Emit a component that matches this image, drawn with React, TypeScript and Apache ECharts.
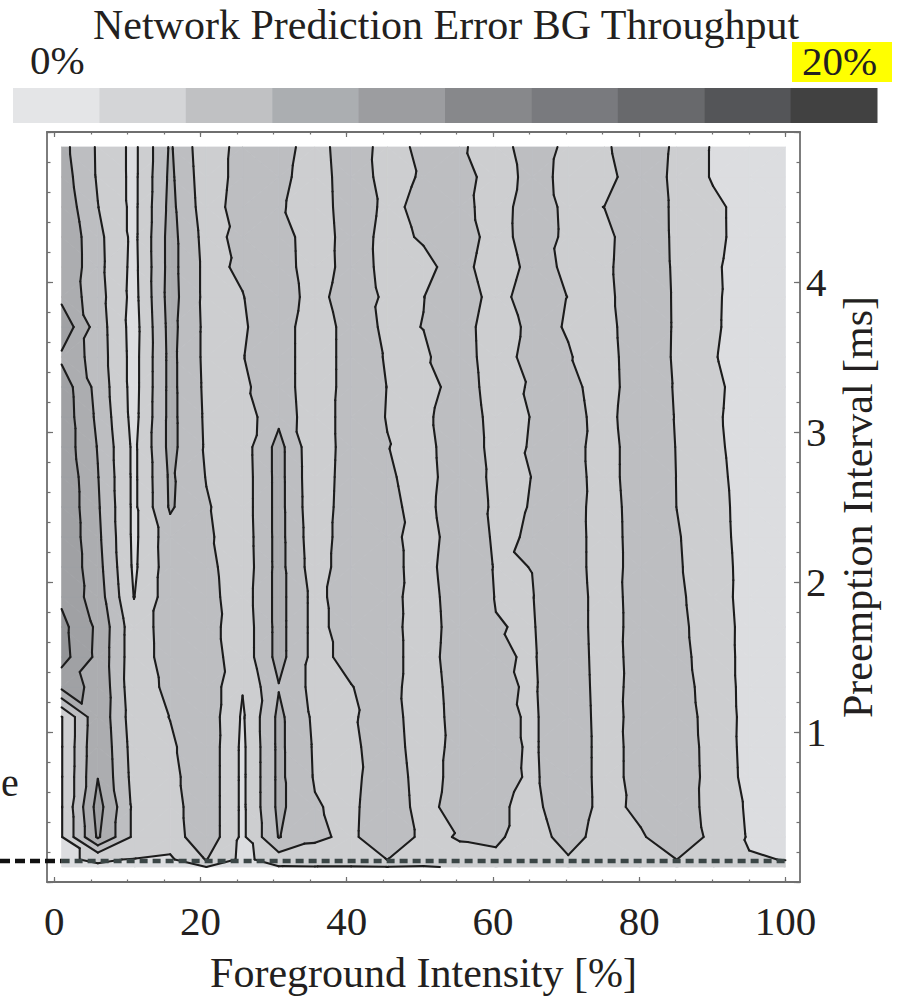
import React, { useEffect, useRef } from 'react';
import * as echarts from 'echarts';

// Foreground intensity grid [%] and preemption interval grid [ms]
const xs = [1, 5.95, 10.9, 15.85, 20.8, 25.75, 30.7, 35.65, 40.6, 45.55, 50.5, 55.45, 60.4, 65.35, 70.3, 75.25, 80.2, 85.15, 90.1, 95.05, 100];
const ys = [0.1, 0.15, 0.3, 0.5, 0.7, 0.9, 1.1, 1.3, 1.5, 1.7, 1.9, 2.1, 2.3, 2.5, 2.7, 2.9, 3.1, 3.3, 3.5, 3.7, 3.9, 4.1, 4.3, 4.5, 4.7, 4.9];

// Prediction error of BG throughput [%], one row per preemption interval (bottom -> top)
const errorRows = [
  [1.9, 1.9, 1.6, 1.0, 1.98, 1.5, 1.9, 1.95, 1.95, 1.98, 1.9, 2.12, 2.3, 2.4, 2.5, 2.5, 2.5, 2.5, 2.5, 2.4, 2.3],
  [1.9, 2.1, 1.95, 1.7, 4.1, 1.5, 3.0, 2.8, 2.6, 4.03, 2.8, 3.3, 3.4, 3.0, 3.7, 3.0, 3.2, 4.02, 3.0, 2.1, 1.97],
  [1.9, 8.3, 3.58, 3.0, 5.42, 1.6, 6.1, 4.42, 3.5, 5.9, 3.38, 4.17, 4.5, 2.5, 5.25, 2.63, 3.67, 5.83, 3.36, 1.85, 1.7],
  [1.9, 8.8, 3.58, 3.17, 5.42, 1.6, 6.46, 4.17, 3.42, 5.9, 2.88, 5.5, 4.5, 3.17, 5.9, 3.04, 4.67, 5.33, 3.2, 1.75, 1.5],
  [1.9, 7.95, 3.33, 3.42, 5.42, 1.6, 6.46, 3.83, 3.25, 5.75, 2.71, 5.08, 5.33, 3.5, 5.9, 2.96, 4.92, 5.5, 3.16, 1.48, 1.0],
  [1.9, 7.8, 3.17, 3.67, 5.42, 1.6, 6.46, 3.75, 3.42, 5.5, 2.46, 5.08, 5.17, 3.58, 5.9, 2.96, 4.92, 5.42, 3.12, 1.42, 1.0],
  [1.9, 7.6, 2.92, 4.05, 5.33, 1.75, 6.46, 3.58, 3.67, 5.33, 2.3, 5.25, 4.92, 3.58, 5.9, 2.88, 5.0, 5.25, 3.07, 1.45, 1.0],
  [8.5, 7.7, 2.67, 4.58, 5.33, 2.1, 5.9, 3.33, 3.92, 5.08, 2.4, 5.42, 4.58, 3.67, 5.83, 2.79, 5.08, 5.0, 2.98, 1.43, 1.0],
  [10.8, 7.5, 2.75, 5.0, 5.08, 2.75, 6.7, 3.33, 4.67, 5.08, 2.63, 5.67, 4.33, 3.75, 5.75, 2.71, 5.17, 4.75, 2.9, 1.43, 1.0],
  [10.6, 7.6, 2.75, 5.08, 4.83, 2.75, 6.7, 3.33, 5.08, 5.08, 2.5, 5.5, 4.08, 3.83, 5.67, 2.63, 5.25, 4.58, 2.86, 1.44, 1.0],
  [9.6, 7.0, 1.95, 5.08, 4.67, 2.92, 6.7, 3.33, 5.33, 5.0, 2.63, 5.67, 3.92, 3.92, 5.67, 2.63, 5.33, 4.42, 2.78, 1.36, 1.0],
  [9.7, 6.7, 1.67, 5.08, 4.58, 2.75, 6.7, 2.92, 5.33, 4.92, 2.88, 5.9, 3.83, 4.02, 5.5, 2.5, 5.42, 4.25, 2.75, 1.39, 1.0],
  [9.7, 6.45, 1.58, 5.17, 4.33, 2.83, 6.7, 2.75, 5.33, 4.92, 2.63, 5.67, 3.67, 4.17, 5.5, 2.5, 5.5, 4.17, 2.69, 1.31, 1.0],
  [9.7, 6.25, 1.58, 6.25, 4.17, 2.92, 6.7, 2.58, 5.33, 4.67, 3.04, 5.9, 3.5, 4.08, 5.42, 2.54, 5.58, 3.98, 2.64, 1.28, 1.0],
  [9.7, 6.08, 1.58, 6.33, 3.92, 2.92, 6.7, 2.5, 5.25, 4.42, 2.79, 5.83, 3.33, 4.02, 5.33, 2.71, 5.75, 3.96, 2.58, 1.17, 1.0],
  [9.3, 5.9, 1.58, 6.58, 3.75, 3.0, 6.7, 2.42, 5.17, 4.08, 2.96, 5.9, 3.08, 4.17, 5.17, 2.71, 5.75, 3.92, 2.48, 1.03, 1.0],
  [9.3, 5.58, 1.33, 6.58, 3.67, 2.92, 5.54, 2.5, 5.17, 3.92, 3.29, 5.9, 2.92, 4.08, 5.08, 2.96, 5.9, 3.84, 2.37, 1.0, 1.0],
  [9.2, 5.31, 1.25, 6.58, 3.58, 3.58, 5.38, 2.33, 5.17, 3.97, 2.54, 5.58, 2.67, 4.33, 4.83, 2.71, 5.75, 3.75, 2.44, 1.11, 1.0],
  [7.6, 5.08, 1.25, 6.58, 3.5, 3.92, 5.38, 2.33, 5.17, 3.83, 3.63, 5.42, 2.42, 5.17, 4.17, 2.79, 5.83, 3.63, 2.16, 0.9, 1.0],
  [9.5, 5.0, 1.17, 6.67, 3.5, 3.75, 5.38, 2.33, 5.17, 3.58, 4.04, 5.33, 2.33, 4.75, 3.83, 2.96, 5.9, 3.66, 2.3, 1.0, 1.0],
  [7.5, 4.79, 1.33, 6.83, 3.42, 3.92, 5.63, 2.83, 5.83, 3.42, 3.96, 5.83, 2.83, 5.58, 3.95, 3.21, 5.9, 3.64, 2.33, 1.0, 1.0],
  [7.8, 4.6, 1.42, 6.75, 3.42, 4.33, 5.46, 2.42, 5.25, 3.25, 3.29, 5.17, 2.17, 4.92, 3.58, 3.38, 5.9, 3.57, 2.29, 1.1, 1.0],
  [7.8, 4.53, 1.5, 6.75, 3.25, 4.58, 5.38, 2.33, 5.33, 3.17, 4.29, 5.67, 2.67, 5.5, 3.42, 3.29, 5.75, 3.53, 2.41, 1.3, 1.0],
  [7.42, 4.05, 1.5, 6.58, 2.92, 5.0, 4.38, 2.5, 5.5, 3.42, 4.63, 5.0, 2.58, 5.58, 3.33, 4.03, 5.67, 3.51, 2.4, 1.3, 1.0],
  [7.0, 3.8, 1.5, 6.42, 2.75, 4.83, 4.79, 2.58, 5.58, 3.0, 4.29, 5.42, 2.42, 5.0, 3.25, 3.04, 5.67, 3.36, 1.83, 1.2, 1.0],
  [6.67, 3.76, 1.5, 6.25, 2.58, 4.83, 5.13, 2.75, 5.75, 2.83, 4.71, 4.42, 2.58, 5.58, 3.33, 3.54, 5.9, 3.48, 1.83, 1.2, 1.0],
];

const contourLevels = [2, 4, 6, 8, 10];
const bandColors = ['#dcdde0', '#cdced0', '#bdbec1', '#acadb0', '#a0a1a4', '#939497'];
const colorbarColors = ['#e4e5e7', '#d4d5d7', '#c0c1c3', '#abaeb1', '#9c9da0', '#87888b', '#797a7e', '#68696c', '#545558', '#414141'];

const xMajorTicks = [0, 20, 40, 60, 80, 100];
const xMinorTicks = [0, 5, 10, 15, 20, 25, 30, 35, 40, 45, 50, 55, 60, 65, 70, 75, 80, 85, 90, 95, 100];
const yMajorTicks = [0, 1, 2, 3, 4, 5];
const yTickLabels = [1, 2, 3, 4];
const yMinorTicks = [0, 0.2, 0.4, 0.6, 0.8, 1, 1.2, 1.4, 1.6, 1.8, 2, 2.2, 2.4, 2.6, 2.8, 3, 3.2, 3.4, 3.6, 3.8, 4, 4.2, 4.4, 4.6, 4.8, 5];
const baselineInterval = 0.14;

const FONT = 'Liberation Serif';
const TEXT = '#231f20';
const FRAME = '#6f6f6f';

function nz(z: number) {
  for (const T of contourLevels) if (z === T) return z + 1e-6;
  return z;
}

function cornersOf(api: any, i: number, j: number) {
  const idx = [[i, j], [i + 1, j], [i + 1, j + 1], [i, j + 1]];
  return idx.map(([a, b]) => {
    const p = api.coord([xs[a], ys[b]]);
    return [p[0], p[1], nz(errorRows[b][a])];
  });
}

function trianglesOf(c: number[][]) {
  const [p00, p10, p11, p01] = c;
  if (Math.abs(p00[2] - p11[2]) <= Math.abs(p10[2] - p01[2])) return [[p00, p10, p11], [p00, p11, p01]];
  return [[p00, p10, p01], [p10, p11, p01]];
}

function clipPoly(pts: number[][], T: number, keepAbove: boolean) {
  const out: number[][] = [];
  for (let k = 0; k < pts.length; k++) {
    const a = pts[k];
    const b = pts[(k + 1) % pts.length];
    const ina = keepAbove ? a[2] >= T : a[2] <= T;
    const inb = keepAbove ? b[2] >= T : b[2] <= T;
    if (ina) out.push(a);
    if (ina !== inb) {
      const t = (T - a[2]) / (b[2] - a[2]);
      out.push([a[0] + t * (b[0] - a[0]), a[1] + t * (b[1] - a[1]), T]);
    }
  }
  return out;
}

function renderFill(params: any, api: any) {
  const i = api.value(2);
  const j = api.value(3);
  const children: any[] = [];
  for (const tri of trianglesOf(cornersOf(api, i, j))) {
    const zs = tri.map((p) => p[2]);
    const zmin = Math.min(...zs);
    const zmax = Math.max(...zs);
    for (let k = 0; k < bandColors.length; k++) {
      const lo = k === 0 ? -Infinity : contourLevels[k - 1];
      const hi = k < contourLevels.length ? contourLevels[k] : Infinity;
      if (zmax < lo || zmin > hi) continue;
      let poly = tri;
      if (lo > -Infinity) poly = clipPoly(poly, lo, true);
      if (poly.length >= 3 && hi < Infinity) poly = clipPoly(poly, hi, false);
      if (poly.length < 3) continue;
      children.push({
        type: 'polygon',
        shape: { points: poly.map((p) => [p[0], p[1]]) },
        style: { fill: bandColors[k], stroke: bandColors[k], lineWidth: 0.8 },
      });
    }
  }
  return { type: 'group', children };
}

function renderLines(params: any, api: any) {
  const i = api.value(2);
  const j = api.value(3);
  const children: any[] = [];
  for (const tri of trianglesOf(cornersOf(api, i, j))) {
    for (const T of contourLevels) {
      const pts: number[][] = [];
      for (let k = 0; k < 3; k++) {
        const a = tri[k];
        const b = tri[(k + 1) % 3];
        if ((a[2] - T) * (b[2] - T) < 0) {
          const t = (T - a[2]) / (b[2] - a[2]);
          pts.push([a[0] + t * (b[0] - a[0]), a[1] + t * (b[1] - a[1])]);
        }
      }
      if (pts.length === 2) {
        children.push({
          type: 'line',
          shape: { x1: pts[0][0], y1: pts[0][1], x2: pts[1][0], y2: pts[1][1] },
          style: { stroke: '#1c1c1c', lineWidth: 2.1, lineCap: 'round' },
        });
      }
    }
  }
  return { type: 'group', children };
}

const cells: number[][] = [];
for (let j = 0; j < ys.length - 1; j++) {
  for (let i = 0; i < xs.length - 1; i++) {
    cells.push([(xs[i] + xs[i + 1]) / 2, (ys[j] + ys[j + 1]) / 2, i, j]);
  }
}

function xAxisDef(position: 'top' | 'bottom', ticks: number[], len: number, withLine: boolean, withLabels: boolean) {
  return {
    type: 'value',
    position,
    min: -1,
    max: 102,
    axisLine: { show: withLine, onZero: false, lineStyle: { color: FRAME, width: 1.8 } },
    axisTick: { show: true, inside: true, length: len, customValues: ticks, lineStyle: { color: FRAME, width: 1.2 } },
    axisLabel: withLabels
      ? { show: true, customValues: xMajorTicks, margin: 18, fontSize: 41, fontFamily: FONT, color: TEXT }
      : { show: false },
    splitLine: { show: false },
    ...(withLabels
      ? {
          name: 'Foreground Intensity [%]',
          nameLocation: 'middle',
          nameGap: 70,
          nameTextStyle: { fontSize: 42, fontFamily: FONT, color: TEXT },
        }
      : {}),
  };
}

function yAxisDef(position: 'left' | 'right', ticks: number[], len: number, withLine: boolean, withLabels: boolean) {
  return {
    type: 'value',
    position,
    min: 0,
    max: 5,
    axisLine: { show: withLine, onZero: false, lineStyle: { color: FRAME, width: 1.8 } },
    axisTick: { show: true, inside: true, length: len, customValues: ticks, lineStyle: { color: FRAME, width: 1.2 } },
    axisLabel: withLabels
      ? { show: true, customValues: yTickLabels, margin: 6, fontSize: 41, fontFamily: FONT, color: TEXT }
      : { show: false },
    splitLine: { show: false },
    ...(withLabels
      ? {
          name: 'Preemption Interval [ms]',
          nameLocation: 'middle',
          nameRotate: 90,
          nameGap: 33,
          nameTextStyle: { fontSize: 42, fontFamily: FONT, color: TEXT },
        }
      : {}),
  };
}

export default function App() {
  const ref = useRef<HTMLDivElement>(null);

  useEffect(() => {
    if (!ref.current) return;
    const chart = echarts.init(ref.current, null, { renderer: 'svg' });

    const colorbar = colorbarColors.map((c, k) => ({
      type: 'rect',
      shape: { x: 13 + k * 86.4, y: 88, width: 86.9, height: 35 },
      style: { fill: c },
      silent: true,
    }));

    const baseGraphic = [
      {
        type: 'text',
        x: 446,
        y: 25,
        silent: true,
        style: {
          text: 'Network Prediction Error BG Throughput',
          font: '42px "Liberation Serif"',
          fill: TEXT,
          textAlign: 'center',
          textVerticalAlign: 'middle',
        },
      },
      {
        type: 'text',
        x: 30,
        y: 60,
        silent: true,
        style: { text: '0%', font: '41px "Liberation Serif"', fill: TEXT, textAlign: 'left', textVerticalAlign: 'middle' },
      },
      {
        type: 'rect',
        shape: { x: 792, y: 42, width: 100, height: 40 },
        style: { fill: '#ffff00' },
        silent: true,
      },
      {
        type: 'text',
        x: 802,
        y: 61,
        silent: true,
        style: { text: '20%', font: '41px "Liberation Serif"', fill: TEXT, textAlign: 'left', textVerticalAlign: 'middle' },
      },
      ...colorbar,
      {
        type: 'text',
        x: 1,
        y: 782,
        silent: true,
        style: { text: 'e', font: '40px "Liberation Serif"', fill: TEXT, textAlign: 'left', textVerticalAlign: 'middle' },
      },
    ];

    chart.setOption({
      animation: false,
      backgroundColor: '#ffffff',
      grid: { left: 47, right: 99, top: 132, bottom: 115, containLabel: false, outerBoundsMode: 'none' },
      xAxis: [
        xAxisDef('bottom', xMajorTicks, 5, true, true),
        xAxisDef('bottom', xMinorTicks, 2.5, false, false),
        xAxisDef('top', xMajorTicks, 5, true, false),
        xAxisDef('top', xMinorTicks, 2.5, false, false),
      ],
      yAxis: [
        yAxisDef('right', yMajorTicks, 6, true, true),
        yAxisDef('right', yMinorTicks, 3.5, false, false),
        yAxisDef('left', yMajorTicks, 6, true, false),
        yAxisDef('left', yMinorTicks, 3.5, false, false),
      ],
      series: [
        {
          type: 'custom',
          name: 'bands',
          xAxisIndex: 0,
          yAxisIndex: 0,
          data: cells,
          encode: { x: 0, y: 1 },
          renderItem: renderFill,
          silent: true,
          progressive: 0,
          z: 2,
        },
        {
          type: 'custom',
          name: 'contours',
          xAxisIndex: 0,
          yAxisIndex: 0,
          data: cells,
          encode: { x: 0, y: 1 },
          renderItem: renderLines,
          silent: true,
          progressive: 0,
          z: 3,
        },
        {
          type: 'line',
          xAxisIndex: 0,
          yAxisIndex: 0,
          data: [[xs[0], baselineInterval], [xs[xs.length - 1], baselineInterval]],
          symbol: 'none',
          silent: true,
          lineStyle: { color: '#3b4646', width: 4.5, type: [8, 5] },
          z: 5,
        },
      ],
      graphic: baseGraphic,
    });

    // black dashed continuation of the baseline to the left page edge
    const p = chart.convertToPixel({ xAxisIndex: 0, yAxisIndex: 0 }, [xs[0], baselineInterval]) as number[];
    chart.setOption({
      graphic: [
        ...baseGraphic,
        {
          type: 'line',
          silent: true,
          z: 10,
          shape: { x1: 0, y1: p[1], x2: p[0], y2: p[1] },
          style: { stroke: '#111111', lineWidth: 4.5, lineDash: [10, 5] },
        },
      ],
    });

    return () => {
      chart.dispose();
    };
  }, []);

  return <div ref={ref} style={{ position: 'fixed', left: 0, top: 0, width: 899, height: 997 }} />;
}
